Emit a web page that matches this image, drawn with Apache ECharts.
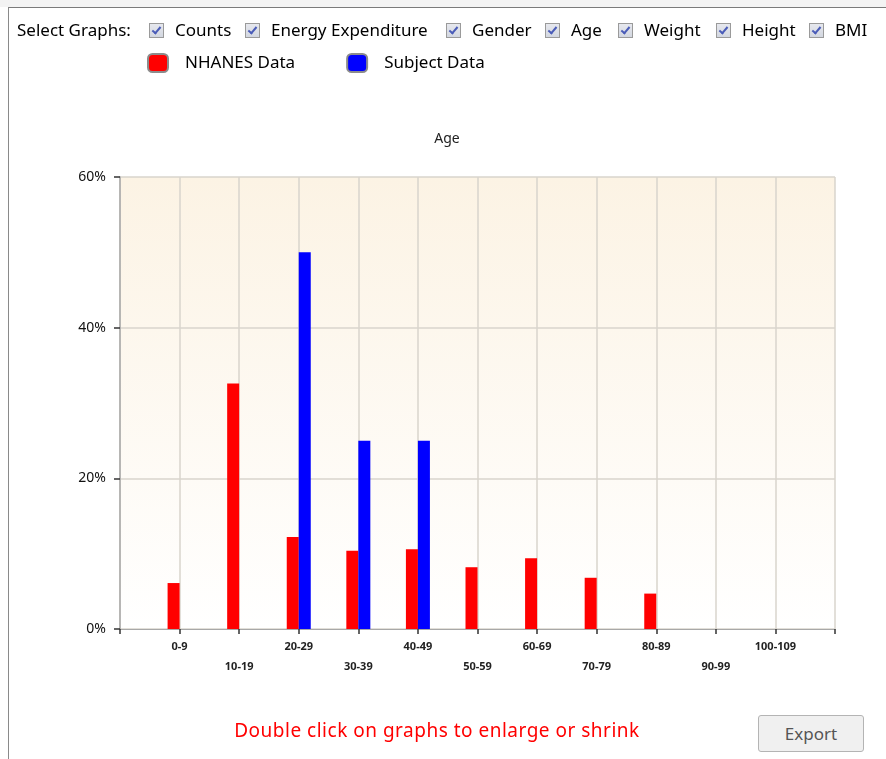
<!DOCTYPE html>
<html>
<head>
<meta charset="utf-8">
<script src="https://cdn.jsdelivr.net/npm/echarts@6/dist/echarts.min.js"></script>
<style>
  html, body { margin: 0; padding: 0; background: #ffffff; }
  body { width: 886px; height: 759px; position: relative; overflow: hidden; font-family: "Noto Sans", "DejaVu Sans", sans-serif; }
  #topstrip { position: absolute; left: 0; top: 0; width: 886px; height: 7px; background: #f3f3f3; }
  #frame { position: absolute; left: 8px; top: 7px; width: 890px; height: 760px; border-top: 1px solid #7a7a7a; border-left: 1px solid #8a8a8a; }
  #chart { position: absolute; left: 0; top: 0; width: 886px; height: 759px; }
  .ui { position: absolute; white-space: nowrap; color: #000; font-size: 17px; line-height: 20px; }
  .cb { position: absolute; top: 23px; width: 13px; height: 13px; border: 1px solid #9a9a9a; background: linear-gradient(#e6e8ee, #d3d7e0); }
  .cb::after { content: ""; position: absolute; left: 4px; top: 1px; width: 3px; height: 7px; border: solid #4a5cb8; border-width: 0 2px 2px 0; transform: rotate(40deg); }
  #note { left: 0; width: 874px; top: 719px; text-align: center; color: #ff0000; font-size: 19px; letter-spacing: 0.5px; line-height: 22px; }
  #export { position: absolute; left: 758px; top: 715px; width: 104px; height: 35px; border: 1px solid #b4b4b4; border-radius: 3px; background: #f0f0f0; color: #555; font-size: 17px; line-height: 35px; text-align: center; }
</style>
</head>
<body>
<div id="topstrip"></div>
<div id="frame"></div>
<div id="chart"></div>
<div class="ui" style="left:17px; top:20px;">Select Graphs:</div>
<div id="note" class="ui">Double click on graphs to enlarge or shrink</div>
<div id="export">Export</div>
<script>
// Graph choices shown in the selector row, with the x where each checkbox sits
const graphOptions = ['Counts', 'Energy Expenditure', 'Gender', 'Age', 'Weight', 'Height', 'BMI'];
const graphOptionX = [149, 245, 446, 545, 618, 716, 809];

// Age groups on the horizontal axis
const ageGroups = ['0-9', '10-19', '20-29', '30-39', '40-49', '50-59', '60-69', '70-79', '80-89', '90-99', '100-109'];

// Share of people in each age group (%)
const nhanesValues = [6.1, 32.6, 12.2, 10.4, 10.6, 8.2, 9.4, 6.8, 4.7, 0, 0];
const subjectValues = [0, 0, 50, 25, 25, 0, 0, 0, 0, 0, 0];

// Percentage ticks on the vertical axis
const percentTicks = [0, 20, 40, 60];

const seriesNames = ['NHANES Data', 'Subject Data'];
const seriesColors = ['#ff0000', '#0000ff'];

// selector row
graphOptions.forEach((name, i) => {
  const box = document.createElement('span');
  box.className = 'cb';
  box.style.left = graphOptionX[i] + 'px';
  document.body.appendChild(box);
  const label = document.createElement('div');
  label.className = 'ui';
  label.style.left = (graphOptionX[i] + 26) + 'px';
  label.style.top = '20px';
  label.textContent = name;
  document.body.appendChild(label);
});

const chart = echarts.init(document.getElementById('chart'), null, { renderer: 'canvas' });

// age groups sit on whole-number positions 1..n of a numeric axis
const toPairs = vals => vals.map((v, i) => [i + 1, v]);

const option = {
  animation: false,
  title: {
    text: 'Age',
    left: 442,
    top: 127,
    textAlign: 'center',
    textStyle: { fontFamily: 'Noto Sans', fontSize: 14, fontWeight: 'normal', color: '#222' }
  },
  legend: {
    left: 142,
    top: 48,
    itemWidth: 20,
    itemHeight: 18,
    itemGap: 51,
    icon: 'roundRect',
    textStyle: { fontFamily: 'Noto Sans', fontSize: 17, color: '#000', padding: [0, 0, 0, 12] },
    data: seriesNames.map((n, i) => ({
      name: n,
      itemStyle: { color: seriesColors[i], borderColor: '#8c8c8c', borderWidth: 2 }
    }))
  },
  grid: {
    left: 120,
    right: 51,
    top: 177,
    bottom: 130,
    show: true,
    borderWidth: 0,
    backgroundColor: new echarts.graphic.LinearGradient(0, 0, 0, 1, [
      { offset: 0, color: '#fcf3e4' },
      { offset: 1, color: '#ffffff' }
    ])
  },
  xAxis: {
    type: 'value',
    min: 0,
    max: ageGroups.length + 1,
    interval: 1,
    axisLine: { show: true, lineStyle: { color: '#a8a8a8', width: 1 } },
    axisTick: { show: true, length: 5, lineStyle: { color: '#333', width: 1.5 } },
    splitLine: { show: true, lineStyle: { color: '#d9d5cd', width: 1.5 } },
    axisLabel: {
      margin: 8,
      fontFamily: 'Noto Sans',
      fontSize: 11,
      fontWeight: 'bold',
      color: '#222',
      lineHeight: 20,
      showMinLabel: true,
      showMaxLabel: true,
      formatter: v => {
        const label = ageGroups[v - 1];
        if (!label) return '';
        return (v % 2 === 0) ? '\n' + label : label;
      }
    }
  },
  yAxis: {
    type: 'value',
    min: percentTicks[0],
    max: percentTicks[percentTicks.length - 1],
    interval: percentTicks[1] - percentTicks[0],
    axisLine: { show: true, lineStyle: { color: '#a8a8a8', width: 1.5 } },
    axisTick: { show: true, length: 6, lineStyle: { color: '#333', width: 1.5 } },
    splitLine: { show: true, lineStyle: { color: '#d9d5cd', width: 1.5 } },
    axisLabel: {
      margin: 14,
      fontFamily: 'Noto Sans',
      fontSize: 14,
      color: '#111',
      formatter: '{value}%'
    }
  },
  series: [
    {
      name: seriesNames[0],
      type: 'bar',
      data: toPairs(nhanesValues),
      barWidth: 12,
      barGap: '0%',
      itemStyle: { color: seriesColors[0] }
    },
    {
      name: seriesNames[1],
      type: 'bar',
      data: toPairs(subjectValues),
      barWidth: 12,
      barGap: '0%',
      itemStyle: { color: seriesColors[1] }
    }
  ]
};

chart.setOption(option);
</script>
</body>
</html>
